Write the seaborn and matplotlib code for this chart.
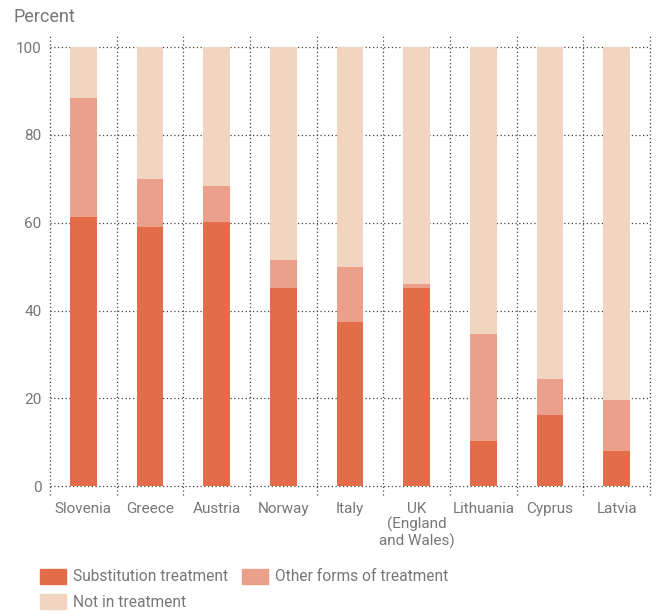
import pandas as pd
import matplotlib.pyplot as plt
import matplotlib.patches as mpatches
import seaborn as sns

# values (percent of people)
countries = ['Slovenia', 'Greece', 'Austria', 'Norway', 'Italy',
             'UK\n(England\nand Wales)', 'Lithuania', 'Cyprus', 'Latvia']
substitution = [61.3, 59.0, 60.1, 45.1, 37.4, 45.1, 10.2, 16.2, 8.0]
other_forms = [27.1, 10.9, 8.2, 6.4, 12.5, 0.9, 24.4, 8.2, 11.6]
total = [100] * len(countries)

c_sub = '#e36d48'
c_other = '#eba08c'
c_not = '#f1d5c0'
grey_txt = '#777777'

df = pd.DataFrame({'country': countries, 'sub': substitution, 'other': other_forms, 'total': total})
df['sub_other'] = df['sub'] + df['other']

sns.set_style('white')
plt.rcParams['font.family'] = ['Roboto', 'DejaVu Sans']

fig = plt.figure(figsize=(6.56, 6.14), dpi=100)
ax = fig.add_axes([0.076, 0.194, 0.915, 0.747])

# stacked bars: draw cumulative layers from the top down
for col, c in [('total', c_not), ('sub_other', c_other), ('sub', c_sub)]:
    sns.barplot(data=df, x='country', y=col, color=c, width=0.4, saturation=1,
                linewidth=0, ax=ax)

ax.set_xlim(-0.5, len(countries) - 0.5)
ax.set_ylim(-2, 102.5)
ax.set_yticks([0, 20, 40, 60, 80, 100])
for y in ax.get_yticks():
    ax.axhline(y, color='#444444', linestyle=(0, (1, 2)), linewidth=0.9, zorder=0)
for x in range(len(countries) + 1):
    ax.axvline(x - 0.5, color='#444444', linestyle=(0, (1, 2)), linewidth=0.9,
               zorder=0, clip_on=False)

for s in ax.spines.values():
    s.set_visible(False)
ax.tick_params(axis='both', length=0, colors=grey_txt, labelsize=11)
ax.tick_params(axis='x', pad=5)
ax.tick_params(axis='y', pad=6)
for lbl in ax.get_xticklabels():
    lbl.set_linespacing(1.1)
ax.set_xlabel('')
ax.set_ylabel('')

fig.text(0.021, 0.972, 'Percent', color=grey_txt, fontsize=13, ha='left', va='center')

# order so rows read: substitution, other / not in treatment
handles = [mpatches.Patch(color=c_sub, label='Substitution treatment'),
           mpatches.Patch(color=c_not, label='Not in treatment'),
           mpatches.Patch(color=c_other, label='Other forms of treatment')]
leg = fig.legend(handles=handles, ncol=2, loc='lower left', bbox_to_anchor=(0.04, -0.016),
                 frameon=False, fontsize=11.2, handlelength=1.65, handleheight=1.1,
                 columnspacing=0.9, handletextpad=0.45, labelspacing=0.62)
for t in leg.get_texts():
    t.set_color(grey_txt)

fig.savefig('out.png', dpi=100)
